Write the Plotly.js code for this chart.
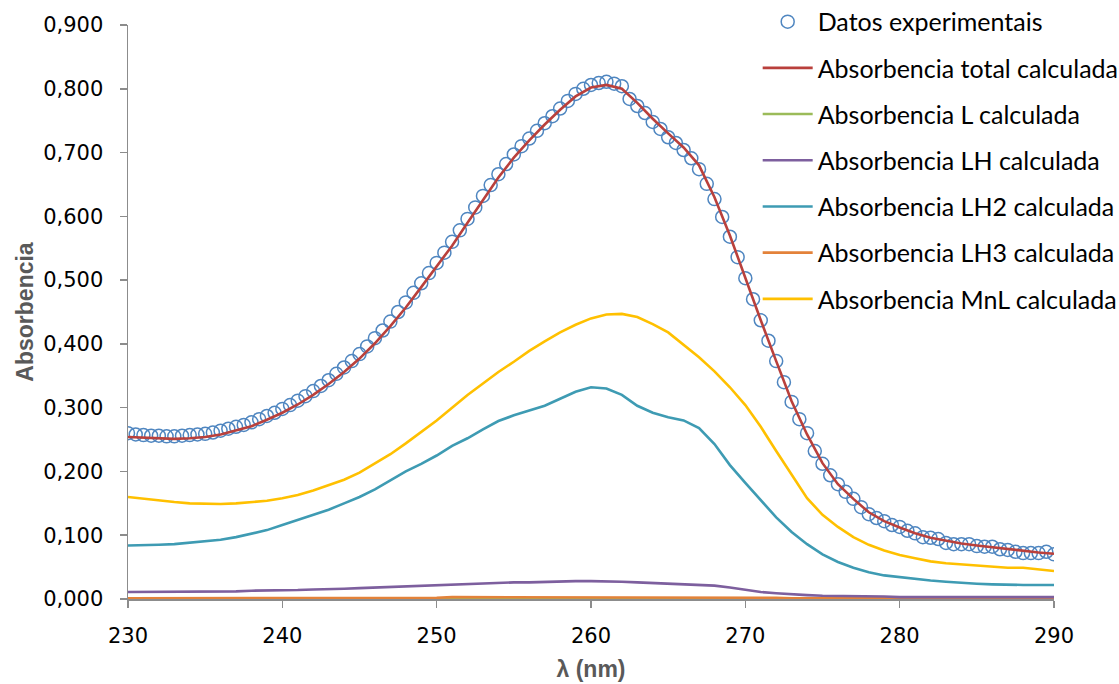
<!DOCTYPE html>
<html>
<head>
<meta charset="utf-8">
<script src="https://cdn.plot.ly/plotly-3.0.1.min.js"></script>
<style>
  html, body { margin: 0; padding: 0; background: #ffffff; }
  #chart { width: 1119px; height: 684px; }
</style>
</head>
<body>
<div id="chart"></div>
<script>
// Wavelength grid of the measured spectrum (nm)
const lambdaExp = [
  230.0,230.5,231.0,231.5,232.0,232.5,233.0,233.5,234.0,234.5,
  235.0,235.5,236.0,236.5,237.0,237.5,238.0,238.5,239.0,239.5,
  240.0,240.5,241.0,241.5,242.0,242.5,243.0,243.5,244.0,244.5,
  245.0,245.5,246.0,246.5,247.0,247.5,248.0,248.5,249.0,249.5,
  250.0,250.5,251.0,251.5,252.0,252.5,253.0,253.5,254.0,254.5,
  255.0,255.5,256.0,256.5,257.0,257.5,258.0,258.5,259.0,259.5,
  260.0,260.5,261.0,261.5,262.0,262.5,263.0,263.5,264.0,264.5,
  265.0,265.5,266.0,266.5,267.0,267.5,268.0,268.5,269.0,269.5,
  270.0,270.5,271.0,271.5,272.0,272.5,273.0,273.5,274.0,274.5,
  275.0,275.5,276.0,276.5,277.0,277.5,278.0,278.5,279.0,279.5,
  280.0,280.5,281.0,281.5,282.0,282.5,283.0,283.5,284.0,284.5,
  285.0,285.5,286.0,286.5,287.0,287.5,288.0,288.5,289.0,289.5,
  290.0
];

// Measured absorbance
const absExp = [
  0.260,0.258,0.257,0.256,0.256,0.255,0.255,0.256,0.257,0.258,
  0.259,0.261,0.264,0.267,0.270,0.273,0.277,0.282,0.287,0.292,
  0.298,0.304,0.311,0.318,0.326,0.334,0.343,0.353,0.363,0.373,
  0.384,0.396,0.409,0.421,0.435,0.450,0.465,0.480,0.495,0.511,
  0.527,0.543,0.560,0.578,0.596,0.614,0.632,0.649,0.666,0.682,
  0.697,0.710,0.722,0.734,0.746,0.757,0.769,0.781,0.792,0.800,
  0.806,0.809,0.811,0.808,0.804,0.784,0.773,0.762,0.748,0.737,
  0.724,0.715,0.704,0.691,0.674,0.651,0.627,0.599,0.568,0.536,
  0.503,0.470,0.437,0.405,0.373,0.340,0.309,0.282,0.260,0.232,
  0.212,0.194,0.180,0.168,0.157,0.144,0.133,0.127,0.122,0.116,
  0.113,0.107,0.103,0.097,0.096,0.094,0.088,0.086,0.086,0.086,
  0.083,0.082,0.082,0.078,0.077,0.074,0.072,0.072,0.072,0.074,
  0.070
];

// Wavelength grid of the calculated curves (nm)
const lambdaCalc = [
  230,231,232,233,234,235,236,237,238,239,
  240,241,242,243,244,245,246,247,248,249,
  250,251,252,253,254,255,256,257,258,259,
  260,261,262,263,264,265,266,267,268,269,
  270,271,272,273,274,275,276,277,278,279,
  280,281,282,283,284,285,286,287,288,289,
  290
];

const absTotal = [
  0.254,0.253,0.252,0.251,0.252,0.254,0.258,0.264,0.271,0.281,
  0.292,0.305,0.320,0.337,0.356,0.377,0.401,0.428,0.457,0.489,
  0.521,0.554,0.590,0.626,0.661,0.692,0.719,0.744,0.767,0.788,
  0.802,0.806,0.800,0.778,0.753,0.730,0.708,0.680,0.630,0.570,
  0.503,0.437,0.373,0.310,0.258,0.213,0.180,0.157,0.136,0.122,
  0.112,0.103,0.096,0.091,0.087,0.084,0.081,0.078,0.075,0.073,
  0.071
];

const absL = [
  0.000,0.000,0.000,0.000,0.000,0.000,0.000,0.000,0.000,0.000,
  0.000,0.000,0.000,0.000,0.000,0.000,0.000,0.000,0.000,0.000,
  0.000,0.000,0.000,0.000,0.000,0.000,0.000,0.000,0.000,0.000,
  0.000,0.000,0.000,0.000,0.000,0.000,0.000,0.000,0.000,0.000,
  0.000,0.000,0.000,0.000,0.000,0.000,0.000,0.000,0.000,0.000,
  0.000,0.000,0.000,0.000,0.000,0.000,0.000,0.000,0.000,0.000,
  0.000
];

const absLH = [
  0.011,0.011,0.011,0.011,0.012,0.012,0.012,0.012,0.013,0.013,
  0.014,0.014,0.015,0.015,0.016,0.017,0.018,0.019,0.020,0.021,
  0.022,0.023,0.024,0.025,0.026,0.026,0.026,0.027,0.027,0.028,
  0.028,0.028,0.027,0.026,0.025,0.024,0.024,0.023,0.021,0.018,
  0.014,0.011,0.009,0.007,0.006,0.005,0.005,0.004,0.004,0.004,
  0.003,0.003,0.003,0.003,0.003,0.003,0.003,0.003,0.003,0.003,
  0.003
];

const absLH2 = [
  0.084,0.084,0.085,0.086,0.088,0.090,0.093,0.097,0.102,0.108,
  0.116,0.124,0.132,0.140,0.150,0.160,0.172,0.186,0.200,0.212,
  0.225,0.240,0.252,0.266,0.279,0.288,0.295,0.303,0.314,0.325,
  0.332,0.330,0.320,0.303,0.292,0.285,0.280,0.268,0.243,0.210,
  0.182,0.155,0.128,0.105,0.086,0.070,0.058,0.049,0.042,0.037,
  0.034,0.032,0.029,0.027,0.025,0.024,0.023,0.022,0.022,0.022,
  0.022
];

const absLH3 = [
  0.001,0.001,0.001,0.001,0.001,0.001,0.001,0.001,0.001,0.001,
  0.001,0.002,0.002,0.002,0.002,0.002,0.002,0.002,0.002,0.002,
  0.002,0.003,0.003,0.003,0.003,0.003,0.003,0.003,0.003,0.003,
  0.003,0.003,0.003,0.003,0.003,0.003,0.003,0.002,0.002,0.002,
  0.002,0.002,0.002,0.001,0.001,0.001,0.001,0.001,0.001,0.001,
  0.001,0.001,0.001,0.001,0.001,0.001,0.001,0.001,0.001,0.001,
  0.001
];

const absMnL = [
  0.160,0.157,0.154,0.152,0.150,0.149,0.149,0.150,0.152,0.154,
  0.158,0.163,0.170,0.178,0.187,0.198,0.212,0.227,0.244,0.262,
  0.280,0.300,0.320,0.338,0.356,0.372,0.389,0.404,0.418,0.430,
  0.440,0.446,0.447,0.442,0.431,0.418,0.399,0.379,0.357,0.332,
  0.304,0.270,0.232,0.194,0.158,0.132,0.113,0.097,0.085,0.076,
  0.069,0.064,0.059,0.056,0.054,0.052,0.050,0.049,0.049,0.047,
  0.044
];

const seriesNames = [
  'Datos experimentais',
  'Absorbencia total calculada',
  'Absorbencia L calculada',
  'Absorbencia LH calculada',
  'Absorbencia LH2 calculada',
  'Absorbencia LH3 calculada',
  'Absorbencia MnL calculada'
];

const xTicks = [230, 240, 250, 260, 270, 280, 290];
const yTicks = [0, 0.1, 0.2, 0.3, 0.4, 0.5, 0.6, 0.7, 0.8, 0.9];

const lineColors = ['#B9403C', '#9BBB59', '#7D5F9E', '#3E9BB3', '#E3823A', '#FFC000'];
const calcSeries = [absTotal, absL, absLH, absLH2, absLH3, absMnL];

const traces = [{
  x: lambdaExp,
  y: absExp,
  name: seriesNames[0],
  legendgroup: 'g0',
  type: 'scatter',
  mode: 'markers',
  marker: { symbol: 'circle-open', size: 13, color: '#4F86C0', line: { width: 1.5 } }
}];

calcSeries.forEach((vals, i) => {
  traces.push({
    x: lambdaCalc,
    y: vals,
    name: seriesNames[i + 1],
    legendgroup: 'g' + (i + 1),
    type: 'scatter',
    mode: 'lines',
    line: { color: lineColors[i], width: 2.6 }
  });
});

// Draw order: the near-zero species under the others
const order = [0, 2, 5, 3, 4, 6, 1];
const drawn = order.map(k => traces[k]);

const tickFont = { family: 'DejaVu Sans, sans-serif', size: 21, color: '#000000' };
const titleFont = { family: 'Liberation Sans, sans-serif', size: 23, color: '#595959', weight: 'bold' };

const layout = {
  width: 1119,
  height: 684,
  margin: { l: 128, r: 65, t: 25, b: 85, autoexpand: false },
  paper_bgcolor: '#ffffff',
  plot_bgcolor: '#ffffff',
  separators: ',.',
  font: { family: 'DejaVu Sans, sans-serif', size: 21, color: '#000000' },
  showlegend: true,
  legend: {
    x: 0.68, y: 1.0455, xanchor: 'left', yanchor: 'top',
    bgcolor: 'rgba(0,0,0,0)',
    font: { family: 'Lato, sans-serif', size: 25, color: '#000000' },
    traceorder: 'grouped',
    tracegroupgap: 10.7,
    itemwidth: 50
  },
  xaxis: {
    range: [230, 290],
    tickvals: xTicks,
    ticktext: xTicks.map(String),
    showgrid: false,
    zeroline: false,
    showline: true,
    linecolor: '#8C8C8C',
    linewidth: 1.5,
    ticks: 'outside',
    ticklen: 7,
    tickwidth: 1.5,
    tickcolor: '#8C8C8C',
    ticklabelstandoff: 10,
    tickfont: tickFont,
    automargin: false,
    title: { text: 'λ (nm)', standoff: 14, font: titleFont }
  },
  yaxis: {
    range: [0, 0.9],
    tickvals: yTicks,
    tickformat: '.3f',
    showgrid: false,
    zeroline: false,
    showline: true,
    linecolor: '#8C8C8C',
    linewidth: 1.5,
    ticks: 'outside',
    ticklen: 7,
    tickwidth: 1.5,
    tickcolor: '#8C8C8C',
    ticklabelstandoff: 12,
    tickfont: tickFont,
    automargin: false,
    title: { text: 'Absorbencia', standoff: 3, font: titleFont }
  }
};

// Keep legend in series order while drawing in a different z-order
drawn.forEach(t => { t.legendrank = seriesNames.indexOf(t.name) + 1; });

Plotly.newPlot('chart', drawn, layout, { displayModeBar: false, staticPlot: true });
</script>
</body>
</html>
